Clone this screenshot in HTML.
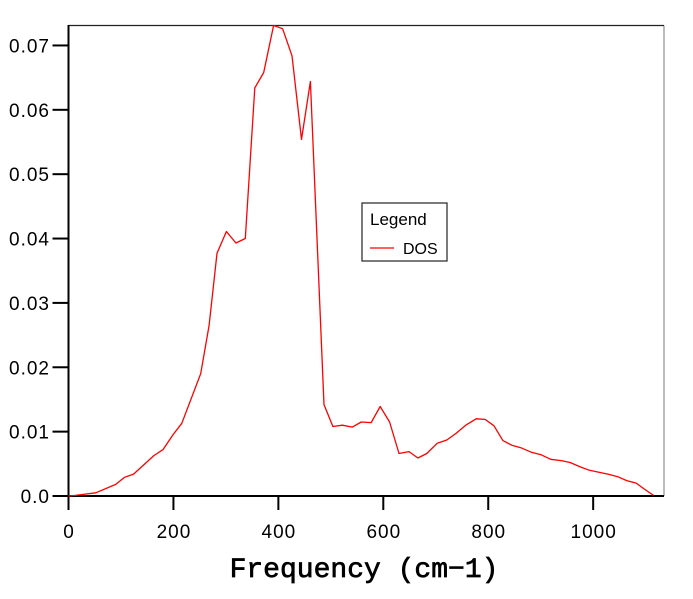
<!DOCTYPE html>
<html><head><meta charset="utf-8"><style>
body{margin:0;background:#fff;}
svg{display:block;font-family:"Liberation Sans",sans-serif;}
</style></head><body>
<svg id="chart" width="693" height="599" viewBox="0 0 693 599">
<rect x="0" y="0" width="693" height="599" fill="#fff"/>
<g id="axes"></g>
<path id="series" fill="none" stroke="#ff0000" stroke-width="1.3" stroke-linejoin="round"/>
<g>
<rect x="362" y="203" width="85" height="58" fill="#fff" stroke="#333" stroke-width="1.3"/>
<text x="370" y="225" font-size="17" fill="#000">Legend</text>
<line x1="370" y1="248" x2="394" y2="248" stroke="#ff0000" stroke-width="1.2"/>
<text x="403" y="254" font-size="16" fill="#000">DOS</text>
</g>
<text x="364" y="577" font-family="'Liberation Mono','DejaVu Sans Mono',monospace" font-size="28" stroke="#000" stroke-width="0.7" text-anchor="middle" fill="#000">Frequency (cm−1)</text>
</svg>
<script>
const freq=[0,13,52,90,107,124,163,180,199,216,252,268,283,301,319,337,355,372,391,408,426,444,461,487,504,522,541,558,577,594,612,630,649,666,683,703,721,738,757,777,794,811,828,845,862,882,901,919,939,956,976,993,1011,1028,1047,1064,1082,1097,1115];
const dos=[0,0.0001,0.0005,0.0018,0.0029,0.0034,0.0063,0.0072,0.0095,0.0113,0.019,0.0265,0.0377,0.0411,0.0393,0.0400,0.0634,0.0658,0.0731,0.0726,0.0684,0.0554,0.0644,0.0142,0.0108,0.0110,0.0107,0.0115,0.0114,0.0139,0.0115,0.0066,0.0069,0.0059,0.0066,0.0082,0.0087,0.0097,0.0110,0.0120,0.0119,0.0109,0.0086,0.0079,0.0075,0.0068,0.0064,0.0057,0.0055,0.0052,0.0045,0.0040,0.0037,0.0034,0.0030,0.0024,0.0020,0.0011,0.0001];
const xTicks=[0,200,400,600,800,1000];
const yTicks=[0,0.01,0.02,0.03,0.04,0.05,0.06,0.07];
const yTickLabels=["0.0","0.01","0.02","0.03","0.04","0.05","0.06","0.07"];
const X0=68.5,XR=664,YB=496,YT=25.5,xMax=1135,yMax=0.0731;
function sx(v){return X0+v/xMax*(XR-X0);}
function sy(v){return YB-v/yMax*(YB-YT);}
const NS="http://www.w3.org/2000/svg";
const ax=document.getElementById('axes');
function mk(tag,attrs,txt){const e=document.createElementNS(NS,tag);for(const k in attrs)e.setAttribute(k,attrs[k]);if(txt!==undefined)e.textContent=txt;ax.appendChild(e);return e;}
let e;
e=mk('line',{x1:XR,y1:YT,x2:XR,y2:YB,stroke:'#999','stroke-width':1.3});


e=mk('line',{x1:X0,y1:YT,x2:XR,y2:YT,stroke:'#222','stroke-width':1.3});


e=mk('line',{x1:X0,y1:YT-0.5,x2:X0,y2:YB+1,stroke:'#000','stroke-width':2});


e=mk('line',{x1:X0-16,y1:YB,x2:XR,y2:YB,stroke:'#000','stroke-width':2});


yTicks.forEach((v,i)=>{
 const y=sy(v);
 let t=mk('line',{x1:X0-16,y1:y,x2:X0,y2:y,stroke:'#000','stroke-width':2});
 
 
 let l=mk('text',{x:50,y:y+7,'font-size':19,'letter-spacing':'1','text-anchor':'end',fill:'#000'},yTickLabels[i]);
 
 
});
xTicks.forEach(v=>{
 const x=sx(v);
 let t=mk('line',{x1:x,y1:YB,x2:x,y2:YB+14,stroke:'#000','stroke-width':2});
 
 
 let l=mk('text',{x:x+0.5,y:538,'font-size':19,'letter-spacing':'1','text-anchor':'middle',fill:'#000'},String(v));
 
 
});
document.getElementById('series').setAttribute('d',freq.map((f,i)=>(i?'L':'M')+sx(f).toFixed(1)+' '+sy(dos[i]).toFixed(1)).join(' '));
</script>
</body></html>
